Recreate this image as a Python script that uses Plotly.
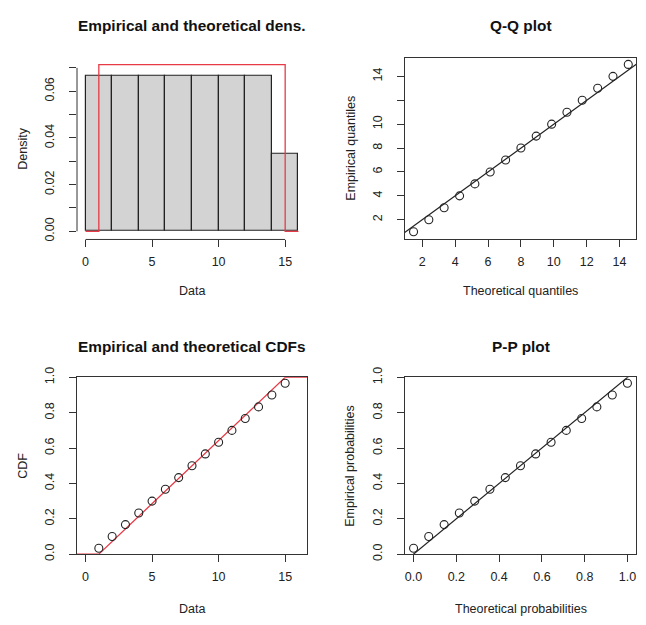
import plotly.graph_objects as go

# ---------------- data ----------------
data_vals = [1, 2, 3, 4, 5, 6, 7, 8, 9, 10, 11, 12, 13, 14, 15]
emp_prob = [0.033, 0.100, 0.167, 0.233, 0.300, 0.367, 0.433, 0.500,
            0.567, 0.633, 0.700, 0.767, 0.833, 0.900, 0.967]
theo_quant = [1.47, 2.40, 3.33, 4.27, 5.20, 6.13, 7.07, 8.00,
              8.93, 9.87, 10.80, 11.73, 12.67, 13.60, 14.53]
theo_prob = [0.000, 0.071, 0.143, 0.214, 0.286, 0.357, 0.429, 0.500,
             0.571, 0.643, 0.714, 0.786, 0.857, 0.929, 1.000]
hist_centers = [1, 3, 5, 7, 9, 11, 13, 15]
hist_density = [0.0667, 0.0667, 0.0667, 0.0667, 0.0667, 0.0667, 0.0667, 0.0333]
dens_curve_x = [0, 1, 1, 15, 15, 16]
dens_curve_y = [0, 0, 0.0714, 0.0714, 0, 0]
cdf_curve_x = [-0.64, 1, 15, 16.64]
cdf_curve_y = [0, 0, 1, 1]

titles = ["Empirical and theoretical dens.", "Q-Q plot",
          "Empirical and theoretical CDFs", "P-P plot"]

# ---------------- layout geometry ----------------
W, H = 646, 625
OFF = 8  # page body margin offset
FONT = "Liberation Sans, Arial, sans-serif"
TXT = "#222222"
RED = "#e63a46"
FS = 12.5

col_px = [(77, 307), (405, 636)]
row_px = [(48, 235), (377, 559)]

def px_x(p):
    return (p - OFF) / W

def px_y(p):
    return 1 - (p - OFF) / H

def xdom(c):
    return [px_x(col_px[c][0]), px_x(col_px[c][1])]

def ydom(r):
    return [px_y(row_px[r][1]), px_y(row_px[r][0])]

fig = go.Figure()

fig.add_trace(go.Bar(x=hist_centers, y=hist_density, width=2,
                     marker=dict(color="#d3d3d3", line=dict(color="#222222", width=1.2)),
                     xaxis="x", yaxis="y", showlegend=False))
fig.add_trace(go.Scatter(x=dens_curve_x, y=dens_curve_y, mode="lines",
                         line=dict(color=RED, width=1.3), xaxis="x", yaxis="y",
                         showlegend=False))
fig.add_trace(go.Scatter(x=[-100, 100], y=[-100, 100], mode="lines",
                         line=dict(color="#222222", width=1.2), xaxis="x2", yaxis="y2",
                         showlegend=False))
fig.add_trace(go.Scatter(x=theo_quant, y=data_vals, mode="markers",
                         marker=dict(symbol="circle-open", size=8,
                                     line=dict(color="#222222", width=1.1), color="#222222"),
                         xaxis="x2", yaxis="y2", showlegend=False, cliponaxis=False))
fig.add_trace(go.Scatter(x=cdf_curve_x, y=cdf_curve_y, mode="lines",
                         line=dict(color=RED, width=1.3), xaxis="x3", yaxis="y3",
                         showlegend=False))
fig.add_trace(go.Scatter(x=data_vals, y=emp_prob, mode="markers",
                         marker=dict(symbol="circle-open", size=8,
                                     line=dict(color="#222222", width=1.1), color="#222222"),
                         xaxis="x3", yaxis="y3", showlegend=False))
fig.add_trace(go.Scatter(x=[-1, 2], y=[-1, 2], mode="lines",
                         line=dict(color="#222222", width=1.2), xaxis="x4", yaxis="y4",
                         showlegend=False))
fig.add_trace(go.Scatter(x=theo_prob, y=emp_prob, mode="markers",
                         marker=dict(symbol="circle-open", size=8,
                                     line=dict(color="#222222", width=1.1), color="#222222"),
                         xaxis="x4", yaxis="y4", showlegend=False, cliponaxis=False))

def axis(dom, rng, tickvals, ticktext=None, box=True, anchor=None, vertical=False):
    d = dict(domain=dom, range=rng, tickmode="array", tickvals=tickvals,
             ticktext=ticktext if ticktext is not None else [str(v) for v in tickvals],
             ticks="outside", ticklen=7, tickwidth=1, tickcolor="#333333",
             showgrid=False, zeroline=False, anchor=anchor,
             tickfont=dict(family=FONT, size=FS, color=TXT),
             showline=box, linecolor="#333333", linewidth=1, mirror=box,
             ticklabelstandoff=4, fixedrange=True)
    if vertical:
        d["tickangle"] = -90
        d["ticklabelstandoff"] = 10
    return d

dens_y_ticks = [0, 0.01, 0.02, 0.03, 0.04, 0.05, 0.06, 0.07]
dens_y_text = ["0.00", "", "0.02", "", "0.04", "", "0.06", ""]
qq_ticks = [2, 4, 6, 8, 10, 12, 14]
qq_y_text = ["2", "4", "6", "8", "10", "", "14"]
p_ticks = [0, 0.2, 0.4, 0.6, 0.8, 1.0]
p_text = ["0.0", "0.2", "0.4", "0.6", "0.8", "1.0"]
data_ticks = [0, 5, 10, 15]

fig.update_layout(
    width=W, height=H, margin=dict(l=0, r=0, t=0, b=0),
    paper_bgcolor="white", plot_bgcolor="white", bargap=0,
    xaxis=axis(xdom(0), [-0.64, 16.64], data_ticks, box=False, anchor="y"),
    yaxis=axis(ydom(0), [-0.0035, 0.0743], dens_y_ticks, dens_y_text, box=False,
               anchor="x", vertical=True),
    xaxis2=axis(xdom(1), [0.95, 15.0], qq_ticks, anchor="y2"),
    yaxis2=axis(ydom(0), [0.35, 15.55], qq_ticks, qq_y_text, anchor="x2", vertical=True),
    xaxis3=axis(xdom(0), [-0.64, 16.64], data_ticks, anchor="y3"),
    yaxis3=axis(ydom(1), [0, 1], p_ticks, p_text, anchor="x3", vertical=True),
    xaxis4=axis(xdom(1), [-0.04, 1.04], p_ticks, p_text, anchor="y4"),
    yaxis4=axis(ydom(1), [0, 1], p_ticks, p_text, anchor="x4", vertical=True),
)

# R-style detached axis lines for the histogram panel (span first..last tick)
fig.add_shape(type="line", xref="x", yref="y domain", x0=data_ticks[0], x1=data_ticks[-1],
              y0=0, y1=0, line=dict(color="#333333", width=1))
fig.add_shape(type="line", xref="x domain", yref="y", x0=0, x1=0,
              y0=dens_y_ticks[0], y1=dens_y_ticks[-1], line=dict(color="#333333", width=1))

def ann(text, x_px, y_px, size=FS, bold=False, angle=0):
    fig.add_annotation(text=f"<b>{text}</b>" if bold else text,
                       x=px_x(x_px), y=px_y(y_px), xref="paper", yref="paper",
                       showarrow=False, textangle=angle, xanchor="center", yanchor="middle",
                       font=dict(family=FONT, size=size, color="#111111" if bold else TXT))

cx = [(a + b) / 2 for a, b in col_px]
ann(titles[0], cx[0], 15, 15.4, True)
ann(titles[1], cx[1], 15, 15.4, True)
ann(titles[2], cx[0], 345, 15.4, True)
ann(titles[3], cx[1], 345, 15.4, True)

ann("Data", cx[0], 288)
ann("Theoretical quantiles", cx[1], 288)
ann("Data", cx[0], 615)
ann("Theoretical probabilities", cx[1], 615)

ann("Density", 23, (row_px[0][0] + row_px[0][1]) / 2, angle=-90)
ann("Empirical quantiles", 351, (row_px[0][0] + row_px[0][1]) / 2, angle=-90)
ann("CDF", 23, (row_px[1][0] + row_px[1][1]) / 2, angle=-90)
ann("Empirical probabilities", 350, (row_px[1][0] + row_px[1][1]) / 2, angle=-90)

fig.write_html("out.html")
